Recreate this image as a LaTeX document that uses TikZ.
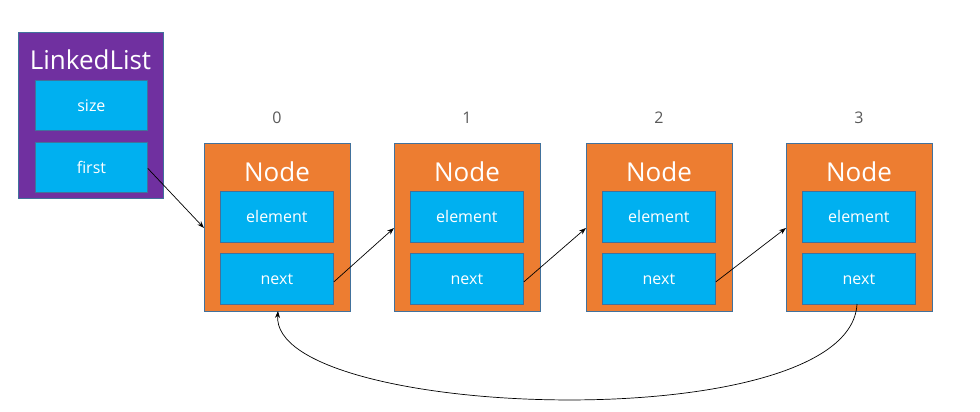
\documentclass[tikz,border=0pt]{standalone}
\usepackage{fontspec}
\setmainfont{Open Sans}
\usetikzlibrary{arrows.meta}
\definecolor{llpurple}{HTML}{7030A0}
\definecolor{ndorange}{HTML}{ED7D31}
\definecolor{fldblue}{HTML}{00B0F0}
\definecolor{edgeblue}{HTML}{41719C}
\definecolor{idxgray}{HTML}{595959}
\begin{document}
\begin{tikzpicture}[x=1pt,y=-1pt,
  outerbox/.style={draw=edgeblue,line width=0.8pt},
  fieldbox/.style={draw=edgeblue,line width=0.8pt,fill=fldblue,text=white,font=\fontsize{16}{18}\selectfont,inner sep=0pt,anchor=north west},
  titletext/.style={text=white,font=\fontsize{26}{30}\selectfont,inner sep=0pt},
  idxtext/.style={text=idxgray,font=\fontsize{16}{19}\selectfont,inner sep=0pt},
  link/.style={-{Stealth[length=7pt,width=5pt]},line width=0.7pt,black}]
\useasboundingbox (0,0) rectangle (980,412);
% LinkedList
\fill[llpurple,outerbox] (18,32) rectangle (163,198);
\node[titletext] (lltitle) at (90.5,60) {LinkedList};
\node[fieldbox,minimum width=112pt,minimum height=50pt] (size) at (35,80) {size};
\node[fieldbox,minimum width=112pt,minimum height=50pt] (first) at (35,142) {first};
% Nodes
\foreach \i/\x in {0/204,1/394,2/586,3/786}{
  \fill[ndorange,outerbox] (\x,143) rectangle ++(146,168);
  \coordinate (n\i) at (\x,143);
  \node[idxtext] (idx\i) at (\x+73,118) {\i};
  \node[titletext] (title\i) at (\x+73,172) {Node};
  \node[fieldbox,minimum width=113pt,minimum height=51pt] (el\i) at (\x+16,191) {element};
  \node[fieldbox,minimum width=113pt,minimum height=51pt] (nx\i) at (\x+16,253) {next};
  \coordinate (in\i) at (\x,228);
}
\coordinate (nb0) at (278,311);
\draw[link] ([yshift=-1pt]first.east) -- (in0);
\draw[link] ([yshift=-3pt]nx0.east) -- (in1);
\draw[link] ([yshift=-3pt]nx1.east) -- (in2);
\draw[link] ([yshift=-3pt]nx2.east) -- (in3);
\coordinate (nxb3) at (857,304);
\draw[link] (nxb3) .. controls (850,440) and (270,420) .. (nb0);
\end{tikzpicture}
\end{document}
